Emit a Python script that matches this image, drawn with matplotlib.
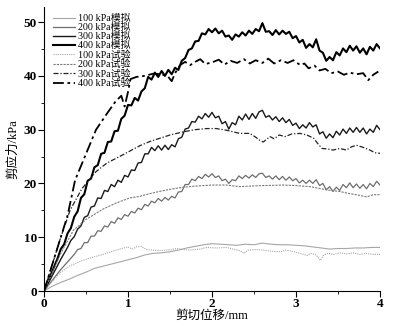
import numpy as np
import matplotlib
matplotlib.use("Agg")
import matplotlib.pyplot as plt
from matplotlib.ticker import MultipleLocator

plt.rcParams['font.family'] = ['Liberation Serif', 'Noto Sans CJK SC']

# simulated curves, sampled every 0.04 mm
x_sim = np.round(np.arange(0, 4.0001, 0.04), 2)

sim_400 = [0, 1.5, 3.0, 4.5, 6.0, 7.8, 8.7, 10.7, 11.7, 13.8,
           14.8, 17.3, 18.0, 20.5, 20.9, 23.0, 23.4, 25.5, 25.7, 27.7,
           27.8, 29.7, 29.8, 32.0, 32.6, 34.6, 34.5, 35.9, 35.4, 37.1,
           37.7, 39.8, 39.3, 40.6, 39.8, 40.9, 40.0, 41.1, 40.3, 41.5,
           41.1, 42.8, 43.3, 44.8, 45.1, 46.4, 46.5, 47.9, 47.7, 48.7,
           48.1, 48.8, 47.9, 48.4, 47.3, 47.5, 46.7, 47.7, 47.3, 48.1,
           47.5, 48.4, 47.8, 48.7, 48.3, 49.8, 48.2, 48.3, 47.6, 48.5,
           47.7, 48.4, 47.8, 48.2, 47.0, 47.4, 46.2, 46.7, 45.2, 45.9,
           45.3, 46.8, 44.7, 44.3, 42.8, 43.5, 42.9, 44.4, 43.8, 45.1,
           44.4, 45.6, 44.7, 45.5, 44.3, 45.1, 44.0, 45.4, 44.7, 45.9,
           45.1]

sim_300 = [0, 1.1, 2.3, 3.5, 4.7, 5.9, 7.0, 8.1, 9.4, 10.1,
           11.5, 12.1, 13.7, 14.0, 15.6, 15.8, 17.3, 17.2, 18.7, 18.5,
           19.8, 19.4, 20.6, 20.2, 21.5, 21.2, 22.5, 22.4, 23.8, 23.9,
           25.5, 25.5, 26.7, 26.1, 27.0, 26.2, 27.1, 26.3, 27.2, 26.8,
           28.3, 28.6, 30.1, 30.3, 31.5, 31.4, 32.5, 32.0, 33.0, 32.3,
           33.2, 32.2, 32.5, 31.1, 31.5, 30.1, 31.3, 30.9, 32.5, 31.8,
           32.9, 31.9, 33.0, 32.1, 33.3, 33.6, 32.3, 32.6, 31.8, 32.4,
           31.5, 32.2, 31.3, 31.9, 30.8, 31.2, 30.2, 30.9, 30.3, 31.3,
           30.5, 30.9, 29.2, 29.6, 28.4, 29.2, 28.5, 29.7, 29.0, 30.1,
           29.3, 30.3, 29.5, 30.4, 29.5, 30.3, 29.2, 30.1, 29.5, 30.8,
           30.0]

sim_200 = [0, 0.8, 1.6, 2.4, 3.2, 4.0, 4.7, 5.4, 6.1, 6.8,
           7.7, 7.9, 9.0, 9.0, 10.2, 10.2, 11.2, 11.1, 12.1, 11.9,
           12.9, 12.6, 13.6, 13.3, 14.2, 13.9, 14.8, 14.5, 15.4, 15.1,
           16.1, 15.8, 16.7, 16.4, 17.2, 16.7, 17.4, 16.9, 17.6, 17.3,
           18.4, 18.5, 19.8, 19.8, 20.8, 20.5, 21.3, 20.9, 21.7, 21.2,
           21.8, 21.1, 21.4, 20.5, 20.8, 20.0, 20.7, 20.5, 21.4, 20.9,
           21.5, 21.0, 21.6, 21.1, 21.8, 21.9, 21.1, 21.4, 20.8, 21.4,
           20.7, 21.3, 20.6, 21.2, 20.5, 20.9, 20.1, 20.6, 20.0, 20.6,
           20.0, 20.7, 19.6, 20.0, 18.8, 19.4, 18.5, 19.3, 18.7, 19.8,
           19.2, 20.1, 19.2, 19.9, 19.1, 19.8, 19.0, 20.0, 19.4, 20.4,
           19.7]

x_sim100 = np.round(np.arange(0, 4.0001, 0.1), 1)
sim_100 = [0, 0.9, 1.6, 2.2, 2.9, 3.5, 4.2, 4.6, 5.0, 5.4,
           5.8, 6.2, 6.7, 7.0, 7.1, 7.3, 7.6, 8.0, 8.3, 8.6,
           8.8, 8.7, 8.6, 8.5, 8.7, 8.6, 8.9, 8.7, 8.6, 8.6,
           8.5, 8.4, 8.2, 8.0, 7.8, 7.9, 7.9, 8.0, 8.0, 8.1,
           8.1]

# laboratory test curves
x_t100 = [0, 0.05, 0.1, 0.15, 0.2, 0.3, 0.4, 0.46, 0.56, 0.66, 0.76, 0.86, 0.95,
          1.0, 1.05, 1.1, 1.16, 1.22, 1.3, 1.38, 1.45, 1.52, 1.58, 1.66, 1.74,
          1.86, 1.94, 2.05, 2.17, 2.25, 2.33, 2.38, 2.43, 2.53, 2.62, 2.7, 2.81,
          2.88, 2.95, 3.05, 3.13, 3.18, 3.24, 3.29, 3.33, 3.38, 3.45, 3.52, 3.6,
          3.68, 3.76, 3.84, 3.92, 4.0]
t_100 = [0, 1.0, 1.8, 2.7, 3.5, 4.6, 5.3, 5.7, 6.2, 6.6, 7.1, 7.6, 8.0,
         8.2, 7.8, 8.2, 8.3, 7.7, 7.6, 7.5, 7.6, 7.7, 7.9, 7.7, 7.6,
         7.8, 8.1, 8.0, 8.1, 7.8, 7.5, 7.0, 7.6, 7.7, 7.6, 7.4, 7.3,
         7.6, 7.4, 7.0, 6.6, 7.0, 6.7, 5.7, 6.7, 7.0, 6.8, 7.1, 6.9,
         7.1, 6.8, 7.0, 6.8, 6.8]

x_t200 = [0, 0.1, 0.2, 0.35, 0.5, 0.7, 0.85, 1.02, 1.14, 1.26, 1.4, 1.5, 1.66,
          1.8, 2.0, 2.17, 2.33, 2.45, 2.6, 2.85, 3.0, 3.17, 3.3, 3.41, 3.52,
          3.64, 3.75, 3.84, 3.92, 4.0]
t_200 = [0, 3.5, 7.0, 11.3, 13.3, 15.2, 16.3, 17.3, 17.6, 18.1, 18.6, 18.9, 19.3,
         19.5, 19.7, 19.7, 19.4, 19.5, 19.6, 19.7, 19.6, 19.4, 19.0, 18.7, 18.5,
         18.1, 17.8, 17.5, 17.9, 17.9]

x_t300 = [0, 0.1, 0.2, 0.31, 0.45, 0.62, 0.75, 0.9, 1.02, 1.14, 1.26, 1.38, 1.5,
          1.66, 1.8, 1.94, 2.05, 2.17, 2.33, 2.45, 2.52, 2.57, 2.61, 2.69, 2.74,
          2.8, 2.87, 2.95, 3.05, 3.13, 3.21, 3.26, 3.31, 3.38, 3.44, 3.52, 3.6,
          3.66, 3.72, 3.8, 3.88, 3.94, 4.0]
t_300 = [0, 5.0, 10.0, 15.0, 19.0, 22.2, 23.8, 25.0, 26.0, 27.0, 27.8, 28.4, 29.0,
         29.6, 30.0, 30.2, 30.2, 29.9, 29.3, 29.3, 28.6, 28.0, 27.7, 28.7, 28.3,
         29.0, 28.7, 29.2, 29.3, 29.0, 28.4, 27.4, 26.5, 26.4, 26.2, 26.5, 26.2,
         26.8, 27.1, 26.7, 26.2, 25.7, 25.6]

x_t400 = [0, 0.1, 0.2, 0.28, 0.37, 0.5, 0.62, 0.75, 0.85, 0.92, 0.96, 1.0, 1.03,
          1.1, 1.2, 1.3, 1.4, 1.48, 1.52, 1.56, 1.62, 1.68, 1.74, 1.8, 1.86,
          1.92, 2.0, 2.08, 2.15, 2.22, 2.3, 2.38, 2.45, 2.52, 2.6, 2.67, 2.74,
          2.82, 2.9, 2.97, 3.05, 3.1, 3.15, 3.22, 3.28, 3.35, 3.42, 3.5, 3.57,
          3.64, 3.72, 3.8, 3.86, 3.92, 3.98]
t_400 = [0, 5.0, 10.0, 14.0, 20.6, 25.5, 30.0, 33.0, 35.2, 36.3, 34.3, 37.0, 39.4,
         39.8, 40.0, 40.4, 40.3, 39.8, 39.0, 40.5, 42.0, 42.6, 42.0, 42.6, 43.1,
         42.2, 42.5, 43.0, 42.1, 42.8, 42.4, 43.1, 42.3, 42.9, 42.4, 43.2, 42.3,
         42.9, 42.4, 42.9, 42.0, 42.3, 41.4, 41.9, 41.0, 41.3, 40.5, 40.8, 40.2,
         40.6, 40.3, 40.5, 39.2, 40.2, 40.8]

labels = ['100 kPa模拟', '200 kPa模拟', '300 kPa模拟', '400 kPa模拟',
          '100 kPa试验', '200 kPa试验', '300 kPa试验', '400 kPa试验']

fig = plt.figure(figsize=(4.04, 3.27), dpi=100)
ax = fig.add_axes([44 / 404, 1 - 291 / 327, 336 / 404, 284 / 327])

ax.plot(x_sim100, sim_100, color='#a6a6a6', lw=0.8, label=labels[0])
ax.plot(x_sim, sim_200, color='#6e6e6e', lw=0.9, label=labels[1])
ax.plot(x_sim, sim_300, color='#1a1a1a', lw=1.0, label=labels[2])
ax.plot(x_sim, sim_400, color='black', lw=1.5, label=labels[3])
ax.plot(x_t100, t_100, color='#a6a6a6', lw=0.8, ls=(0, (1, 1)), label=labels[4])
ax.plot(x_t200, t_200, color='#7a7a7a', lw=0.8, ls=(0, (2, 1)), label=labels[5])
ax.plot(x_t300, t_300, color='#222222', lw=0.9, ls=(0, (4, 1.5, 1, 1.5)), label=labels[6])
ax.plot(x_t400, t_400, color='black', lw=1.3, ls=(0, (6, 2, 1.5, 2)), label=labels[7])

ax.set_xlim(0, 4)
ax.set_ylim(0, 52.8)
ax.spines['top'].set_visible(False)
ax.spines['right'].set_visible(False)
ax.xaxis.set_major_locator(MultipleLocator(1))
ax.xaxis.set_minor_locator(MultipleLocator(0.5))
ax.yaxis.set_major_locator(MultipleLocator(10))
ax.yaxis.set_minor_locator(MultipleLocator(5))
ax.tick_params(which='major', direction='out', length=4, width=0.8, labelsize=9.5, pad=1)
ax.tick_params(which='minor', direction='out', length=2, width=0.6)
for lbl in ax.get_xticklabels() + ax.get_yticklabels():
    lbl.set_fontweight('bold')

ax.set_xlabel('剪切位移/mm', fontsize=9, labelpad=0)
ax.set_ylabel('剪应力/kPa', fontsize=9, labelpad=3)

ax.legend(loc='upper left', bbox_to_anchor=(48 / 404, 1 - 9 / 327),
          bbox_transform=fig.transFigure, frameon=False, fontsize=7.2,
          handlelength=2.2, handletextpad=0.25, labelspacing=0.0, borderpad=0)

fig.savefig('out.png', dpi=100)
